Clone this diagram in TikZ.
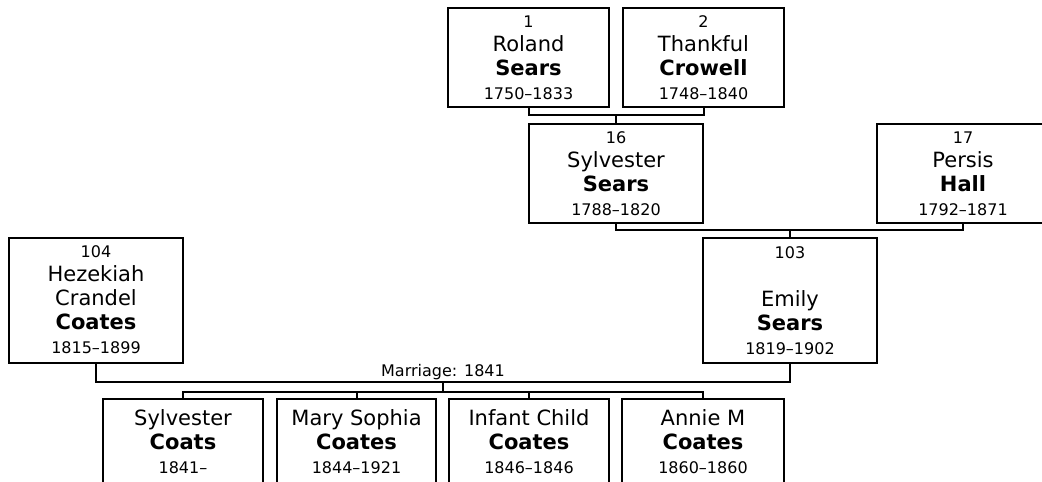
\documentclass[tikz,border=0pt]{standalone}
\usepackage{fontspec}
\setmainfont{DejaVu Sans}
\newcommand\smallf{\fontsize{16}{24}\selectfont}
\tikzset{
  person/.style={draw, line width=2pt, inner sep=0pt, align=center,
    font=\fontsize{21}{24}\selectfont, minimum height=99pt},
  link/.style={line width=2pt},
  lbl/.style={font=\fontsize{16}{18}\selectfont, inner sep=0pt}
}
\begin{document}
\begin{tikzpicture}[x=1pt,y=-1pt]
\useasboundingbox (0,0) rectangle (1042,482);
% generation 1
\node[person, minimum width=161pt] (b1) at (528.5,57.5)
  {{\smallf 1}\\Roland\\\textbf{Sears}\\{\smallf 1750–1833}};
\node[person, minimum width=161pt] (b2) at (703.5,57.5)
  {{\smallf 2}\\Thankful\\\textbf{Crowell}\\{\smallf 1748–1840}};
% generation 2
\node[person, minimum width=174pt] (b16) at (616,173.5)
  {{\smallf 16}\\Sylvester\\\textbf{Sears}\\{\smallf 1788–1820}};
\node[person, minimum width=172pt] (b17) at (963,173.5)
  {{\smallf 17}\\Persis\\\textbf{Hall}\\{\smallf 1792–1871}};
% generation 3
\node[person, minimum width=174pt, minimum height=125pt] (b104) at (96,300)
  {{\smallf 104}\\Hezekiah\\Crandel\\\textbf{Coates}\\{\smallf 1815–1899}};
\node[person, minimum width=174pt, minimum height=125pt] (b103) at (790,300.5)
  {{\smallf 103}\\[24pt]Emily\\\textbf{Sears}\\{\smallf 1819–1902}};
% children
\node[person, minimum width=160pt, minimum height=85pt] (c1) at (183,441.5)
  {Sylvester\\\textbf{Coats}\\{\smallf 1841–}};
\node[person, minimum width=159pt, minimum height=85pt] (c2) at (356.5,441.5)
  {Mary Sophia\\\textbf{Coates}\\{\smallf 1844–1921}};
\node[person, minimum width=160pt, minimum height=85pt] (c3) at (529,441.5)
  {Infant Child\\\textbf{Coates}\\{\smallf 1846–1846}};
\node[person, minimum width=162pt, minimum height=85pt] (c4) at (703,441.5)
  {Annie M\\\textbf{Coates}\\{\smallf 1860–1860}};
% junctions
\coordinate (j1) at (616,115);
\coordinate (j2) at (790,230);
\coordinate (j3) at (443,382);
\coordinate (j4) at (443,392);
% connectors
\draw[link] (b1.south) |- (j1) -| (b2.south);
\draw[link] (j1) -- (b16.north);
\draw[link] (b16.south) |- (j2) -| (b17.south);
\draw[link] (j2) -- (b103.north);
\draw[link] (b104.south) |- (j3) -| (b103.south);
\node[lbl] (mlabel) at (443,372) {Marriage: 1841};
\draw[link] (j3) -- (j4);
\draw[link] (c1.north) |- (j4) -| (c4.north);
\draw[link] (c2.north) -- (c2.north |- j4);
\draw[link] (c3.north) -- (c3.north |- j4);
\end{tikzpicture}
\end{document}
